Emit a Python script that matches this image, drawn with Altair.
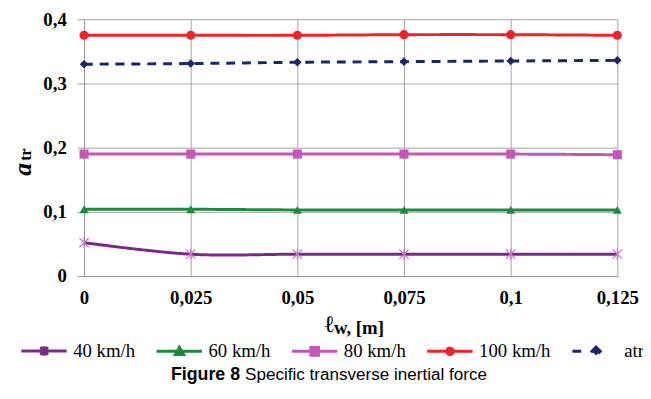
import altair as alt
import pandas as pd

x_vals = [0, 0.025, 0.05, 0.075, 0.1, 0.125]
series_names = ["40 km/h", "60 km/h", "80 km/h", "100 km/h", "atr"]
v40 = [0.052, 0.034, 0.034, 0.034, 0.034, 0.034]
v60 = [0.104, 0.104, 0.103, 0.103, 0.103, 0.103]
v80 = [0.190, 0.190, 0.190, 0.190, 0.190, 0.189]
v100 = [0.375, 0.375, 0.375, 0.376, 0.376, 0.375]
vatr = [0.330, 0.331, 0.333, 0.334, 0.335, 0.336]
y_ticks = [0, 0.1, 0.2, 0.3, 0.4]

line_colors = ["#7A2A86", "#1E8A3E", "#C656B9", "#EE2329", "#1B2769"]
marker_colors = ["#C77AC8", "#1E8A3E", "#C656B9", "#EE2329", "#1B2769"]
dashes = [[1, 0], [1, 0], [1, 0], [1, 0], [9, 7]]

ASTER = "M-1,-1L1,1M-1,1L1,-1M0,-1.2L0,1.2"
marker_shapes = [ASTER, "triangle-up", "square", "circle", "diamond"]

# legend symbols: line segment + marker (units of 3px)
L = "M-1,0L14.3,0"
legend_paths = [
    L + "M5.4,-1.3L8,1.3M5.4,1.3L8,-1.3M6.7,-1.6L6.7,1.6",
    L + "M6.7,-1.4L8.1,1.1L5.3,1.1Z",
    L + "M5.4,-1.3L8,-1.3L8,1.3L5.4,1.3Z",
    L + "M5.6,0A1.1,1.1 0 1,0 7.8,0A1.1,1.1 0 1,0 5.6,0Z",
    "M-1,0L3,0M5.5,0L9,0M7,-1.4L8.4,0L7,1.4L5.6,0Z",
]

rows = []
for name, vals in zip(series_names, [v40, v60, v80, v100, vatr]):
    for x, v in zip(x_vals, vals):
        rows.append({"x": x, "y": v, "series": name})
df = pd.DataFrame(rows)

xs = alt.X("x:Q", scale=alt.Scale(domain=[0, 0.125], nice=False),
           axis=alt.Axis(values=x_vals, title=None, ticks=False, grid=True,
                         labelExpr="replace(format(datum.value, '~g'), '.', ',')",
                         labelPadding=13, labelFlush=False))
ys = alt.Y("y:Q", scale=alt.Scale(domain=[0, 0.4], nice=False),
           axis=alt.Axis(values=y_ticks, title=None, tickSize=7, grid=True,
                         labelExpr="replace(format(datum.value, '~g'), '.', ',')",
                         labelPadding=11))

base = alt.Chart(df)

LEG = dict(title=None, symbolOpacity=1, symbolSize=36, symbolStrokeWidth=3,
           labelFont="Liberation Serif", labelFontSize=19, labelColor="black",
           labelOffset=40, columnPadding=15)

legend_layer = base.mark_point(opacity=0, size=36, filled=True).encode(
    x=xs, y=ys,
    stroke=alt.Stroke("series:N", scale=alt.Scale(domain=series_names, range=line_colors),
                      legend=alt.Legend(**LEG)),
    fill=alt.Fill("series:N", scale=alt.Scale(domain=series_names, range=marker_colors),
                  legend=alt.Legend(**LEG)),
    shape=alt.Shape("series:N", scale=alt.Scale(domain=series_names, range=legend_paths),
                    legend=alt.Legend(**LEG)),
)

lines = base.mark_line(strokeWidth=3, interpolate="catmull-rom").encode(
    x=xs, y=ys,
    stroke=alt.Stroke("series:N", scale=alt.Scale(domain=series_names, range=line_colors), legend=None),
    strokeDash=alt.StrokeDash("series:N", scale=alt.Scale(domain=series_names, range=dashes), legend=None),
    detail="series:N",
)

marker_layers = []
for name, shp, col in zip(series_names, marker_shapes, marker_colors):
    if shp == ASTER:
        m = base.transform_filter(alt.datum.series == name).mark_point(
            filled=False, strokeWidth=1.3, size=90, stroke=col, shape=shp, opacity=1)
    else:
        m = base.transform_filter(alt.datum.series == name).mark_point(
            filled=True, size=85 if shp != "diamond" else 75, fill=col, shape=shp, opacity=1)
    marker_layers.append(m.encode(x=xs, y=ys))

ytitle_a = alt.Chart(pd.DataFrame({"t": ["a"]})).mark_text(
    angle=270, align="center", baseline="middle", font="Liberation Serif",
    fontSize=26, fontWeight="bold", fontStyle="italic", color="black"
).encode(text="t:N", x=alt.value(-62), y=alt.value(152))
ytitle_tr = alt.Chart(pd.DataFrame({"t": ["tr"]})).mark_text(
    angle=270, align="center", baseline="middle", font="Liberation Serif",
    fontSize=16, fontWeight="bold", color="black"
).encode(text="t:N", x=alt.value(-59), y=alt.value(137))

xtitle_l = alt.Chart(pd.DataFrame({"t": ["ℓ"]})).mark_text(
    align="right", baseline="alphabetic", font="DejaVu Serif",
    fontSize=24, fontWeight="bold", color="black"
).encode(text="t:N", x=alt.value(253), y=alt.value(317))
xtitle_w = alt.Chart(pd.DataFrame({"t": ["w, [m]"]})).mark_text(
    align="left", baseline="alphabetic", font="Liberation Serif",
    fontSize=19, fontWeight="bold", color="black"
).encode(text="t:N", x=alt.value(253), y=alt.value(319))

cap_b = alt.Chart(pd.DataFrame({"t": ["Figure 8"]})).mark_text(
    align="left", baseline="middle", font="Liberation Sans Narrow, Arial Narrow, Liberation Sans",
    fontSize=18, fontWeight="bold", color="black"
).encode(text="t:N", x=alt.value(88), y=alt.value(360))
cap_n = alt.Chart(pd.DataFrame({"t": ["Specific transverse inertial force"]})).mark_text(
    align="left", baseline="middle", font="Liberation Sans Narrow, Arial Narrow, Liberation Sans",
    fontSize=17.3, color="black"
).encode(text="t:N", x=alt.value(163), y=alt.value(360))

chart = alt.layer(
    legend_layer, lines, *marker_layers, ytitle_a, ytitle_tr, xtitle_l, xtitle_w, cap_b, cap_n
).properties(
    width=540, height=260,
    autosize=alt.AutoSizeParams(type="none"),
    padding={"left": 77, "top": 9, "right": 26, "bottom": 114},
).configure(
    style={"guide-label": {"font": "Liberation Serif"}}
).configure_view(stroke=None).configure_axis(
    domainColor="#999999", gridColor="#a6a6a6", tickColor="#999999",
    labelFont="Liberation Serif", labelFontSize=19, labelFontWeight="bold", labelColor="black",
    domainWidth=1, gridWidth=1,
).configure_legend(
    orient="none", legendX=-70, legendY=326, direction="horizontal", columns=5,
    labelFont="Liberation Serif", labelFontSize=19, labelColor="black",
    symbolSize=36, symbolStrokeWidth=3, symbolOpacity=1, labelOffset=40, columnPadding=15,
)

chart.save("out.html", embed_options={"renderer": "svg", "actions": False})
